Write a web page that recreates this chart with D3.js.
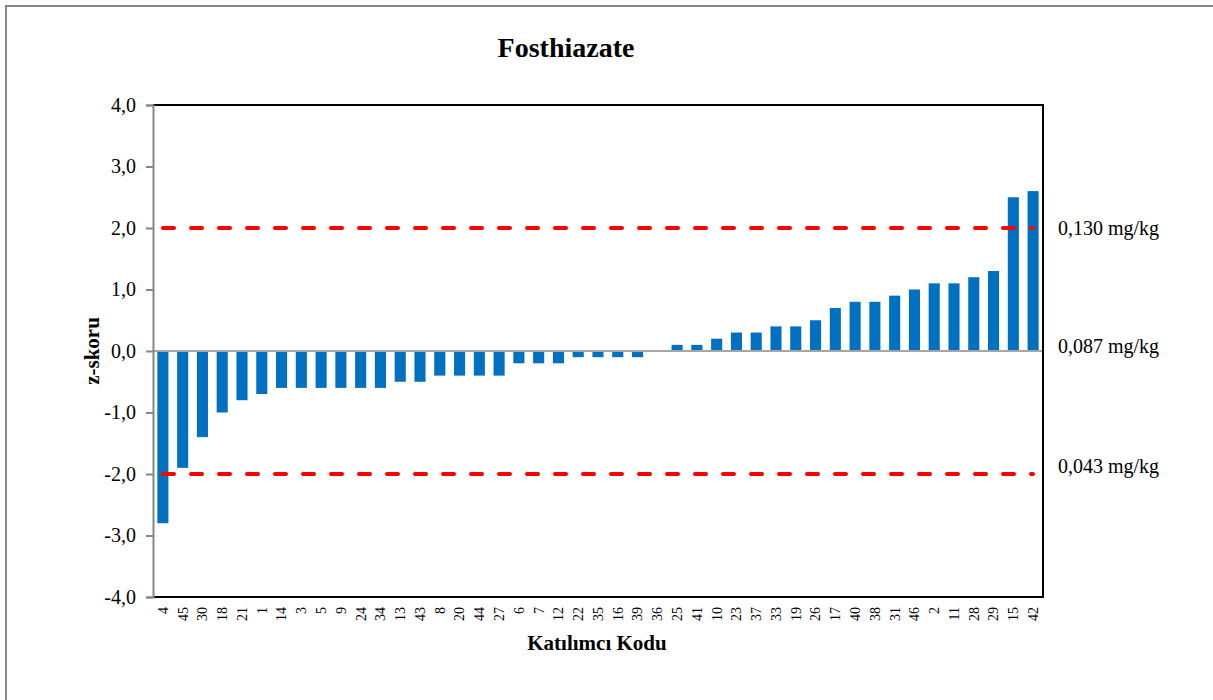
<!DOCTYPE html>
<html lang="en">
<head>
	<meta charset="UTF-8">
	<title>Fosthiazate</title>
	<style>
		body { margin: 0; background: #fff; }
		svg text { font-family: "Times New Roman", "Liberation Serif", serif; fill: #000; }
	</style>
	<script src="https://cdn.jsdelivr.net/npm/d3@7"></script>
</head>
<body>
	<script type="text/javascript">
		// participant codes, sorted by z-score
		const codes = ["4", "45", "30", "18", "21", "1", "14", "3", "5", "9", "24", "34", "13", "43", "8",
			"20", "44", "27", "6", "7", "12", "22", "35", "16", "39", "36", "25", "41", "10", "23",
			"37", "33", "19", "26", "17", "40", "38", "31", "46", "2", "11", "28", "29", "15", "42"];
		const zScores = [-2.8, -1.9, -1.4, -1.0, -0.8, -0.7, -0.6, -0.6, -0.6, -0.6, -0.6, -0.6, -0.5, -0.5, -0.4,
			-0.4, -0.4, -0.4, -0.2, -0.2, -0.2, -0.1, -0.1, -0.1, -0.1, 0.0, 0.1, 0.1, 0.2, 0.3,
			0.3, 0.4, 0.4, 0.5, 0.7, 0.8, 0.8, 0.9, 1.0, 1.1, 1.1, 1.2, 1.3, 2.5, 2.6];
		const yTicks = [-4, -3, -2, -1, 0, 1, 2, 3, 4];
		// limit lines and their concentration labels
		const limits = [2, 0, -2];
		const limitLabels = ["0,130 mg/kg", "0,087 mg/kg", "0,043 mg/kg"];

		const width = 1213;
		const height = 700;
		const plot = { left: 153, right: 1043, top: 105, bottom: 597 };
		const serif = "'Times New Roman', 'Liberation Serif', serif";

		const svg = d3.select("body").append("svg")
			.attr("width", width)
			.attr("height", height)
			.attr("font-family", serif);

		// outer chart border (only top and left fall inside the picture)
		svg.append("path")
			.attr("d", `M6,${height} V6 H${width}`)
			.style("fill", "none")
			.style("stroke", "#868686")
			.style("stroke-width", 2);

		const x = d3.scaleBand()
			.domain(codes)
			.range([plot.left, plot.right])
			.paddingInner(0.44)
			.paddingOuter(0.22);

		const y = d3.scaleLinear()
			.domain([-4, 4])
			.range([plot.bottom, plot.top]);

		// bars
		svg.selectAll(".bar")
			.data(codes)
			.join("rect")
			.attr("class", "bar")
			.attr("x", d => x(d))
			.attr("width", x.bandwidth())
			.attr("y", (d, i) => y(Math.max(0, zScores[i])))
			.attr("height", (d, i) => Math.abs(y(zScores[i]) - y(0)))
			.style("fill", "#0070c0");

		// zero line
		svg.append("line")
			.attr("x1", plot.left).attr("x2", plot.right)
			.attr("y1", y(0)).attr("y2", y(0))
			.style("stroke", "#a6a6a6")
			.style("stroke-width", 2);

		// frame: top, right, bottom in black
		svg.append("path")
			.attr("d", `M${plot.left},${plot.top} H${plot.right} V${plot.bottom} H${plot.left}`)
			.style("fill", "none")
			.style("stroke", "#000")
			.style("stroke-width", 2);

		// y axis
		const yAxis = svg.append("g")
			.attr("transform", `translate(${plot.left},0)`)
			.call(d3.axisLeft(y).tickValues(yTicks).tickSize(7).tickPadding(10)
				.tickFormat(d => d3.format(".1f")(d).replace(".", ",").replace("−", "-")));
		yAxis.attr("font-family", serif);
		yAxis.select(".domain").style("stroke", "#868686").style("stroke-width", 2);
		yAxis.selectAll(".tick line").style("stroke", "#868686").style("stroke-width", 2);
		yAxis.selectAll(".tick text")
			.style("font-size", "20px");

		// x axis labels (rotated)
		const xAxis = svg.append("g")
			.attr("transform", `translate(0,${plot.bottom})`)
			.call(d3.axisBottom(x).tickSize(0));
		xAxis.attr("font-family", serif);
		xAxis.select(".domain").remove();
		xAxis.selectAll(".tick text")
			.attr("transform", "rotate(-90)")
			.attr("x", -10)
			.attr("y", 0)
			.attr("dy", "0.35em")
			.style("text-anchor", "end")
			.style("font-size", "14px");

		// red dashed limit lines
		svg.selectAll(".limit")
			.data(limits.filter(d => d !== 0))
			.join("line")
			.attr("class", "limit")
			.attr("x1", 163).attr("x2", plot.right - 10)
			.attr("y1", d => y(d)).attr("y2", d => y(d))
			.style("stroke", "#ff0000")
			.style("stroke-width", 4)
			.style("stroke-linecap", "round")
			.style("stroke-dasharray", "11 17");

		// concentration labels on the right, nudged up a little like the original
		const labelNudge = [0, -5, -8];
		svg.selectAll(".limit-label")
			.data(limits)
			.join("text")
			.attr("class", "limit-label")
			.attr("x", 1058)
			.attr("y", (d, i) => y(d) + labelNudge[i])
			.attr("dy", "0.35em")
			.style("font-size", "20px")
			.text((d, i) => limitLabels[i]);

		// title and axis titles
		svg.append("text")
			.attr("x", 566).attr("y", 57)
			.attr("text-anchor", "middle")
			.style("font-size", "28px")
			.style("font-weight", "bold")
			.text("Fosthiazate");

		svg.append("text")
			.attr("transform", `translate(99,${y(0)}) rotate(-90)`)
			.attr("text-anchor", "middle")
			.style("font-size", "21px")
			.style("font-weight", "bold")
			.text("z-skoru");

		svg.append("text")
			.attr("x", 597).attr("y", 650)
			.attr("text-anchor", "middle")
			.style("font-size", "21px")
			.style("font-weight", "bold")
			.text("Katılımcı Kodu");
	</script>
</body>
</html>
